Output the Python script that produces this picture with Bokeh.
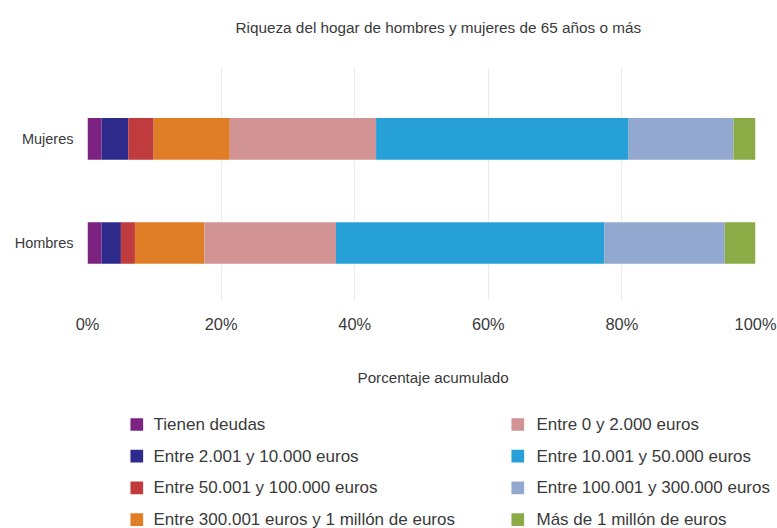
from bokeh.plotting import figure
from bokeh.models import ColumnDataSource, FixedTicker, Range1d
from bokeh.layouts import column
from bokeh.core.properties import value
from bokeh.embed import file_html
from bokeh.resources import INLINE

# ---- data ----
categories = ["Hombres", "Mujeres"]
segments = [
    "Tienen deudas",
    "Entre 2.001 y 10.000 euros",
    "Entre 50.001 y 100.000 euros",
    "Entre 300.001 euros y 1 millón de euros",
    "Entre 0 y 2.000 euros",
    "Entre 10.001 y 50.000 euros",
    "Entre 100.001 y 300.000 euros",
    "Más de 1 millón de euros",
]
hombres = [2.1, 2.9, 2.1, 10.4, 19.7, 40.2, 18.0, 4.6]
mujeres = [2.1, 4.0, 3.8, 11.4, 21.9, 37.8, 15.7, 3.3]
colors = ["#7c2382", "#2d2a8c", "#c03b3d", "#e07d27", "#d19393",
          "#27a0d8", "#93a8cf", "#8aab46"]
x_ticks = [0, 20, 40, 60, 80, 100]
x_tick_labels = ["0%", "20%", "40%", "60%", "80%", "100%"]
title_text = "Riqueza del hogar de hombres y mujeres de 65 años o más"
x_title = "Porcentaje acumulado"

FONT = "Liberation Sans"
TXT = "#3a3a3a"
W = 777


def style_title(t, text, size, offset, standoff):
    t.text = text
    t.text_font = FONT
    t.text_font_size = size
    t.text_font_style = "normal"
    t.text_color = TXT
    t.align = "left"
    t.offset = offset
    t.standoff = standoff


def blank(fig):
    fig.outline_line_color = None
    fig.grid.grid_line_color = None
    try:
        fig.frame_align = False
    except Exception:
        pass


# ---- header with the chart title ----
TOP_H = 41
top = figure(width=W, height=TOP_H, output_backend="svg", toolbar_location=None,
             x_range=Range1d(0, 1), y_range=Range1d(0, 1),
             x_axis_location=None, y_axis_location=None,
             min_border=0, min_border_top=40)
blank(top)
style_title(top.title, title_text, "15.3px", 235, 10)

# ---- main bar chart ----
data = {"y": list(range(len(categories)))}
for i, s in enumerate(segments):
    data[s] = [hombres[i], mujeres[i]]
source = ColumnDataSource(data)

MAIN_H = 294
p = figure(width=W, height=MAIN_H, output_backend="svg", toolbar_location=None,
           x_range=Range1d(0, 100), y_range=Range1d(-0.552, 1.686),
           min_border_left=87, min_border_right=W - 755,
           min_border_top=67 - TOP_H, min_border_bottom=33)
p.outline_line_color = None
try:
    p.frame_align = False
except Exception:
    pass

p.hbar_stack(segments, y="y", height=0.4, color=colors,
             source=source, line_color=None)

xa = p.xaxis[0]
xa.ticker = FixedTicker(ticks=x_ticks)
xa.major_label_overrides = {t: l for t, l in zip(x_ticks, x_tick_labels)}
xa.major_label_text_font = FONT
xa.major_label_text_font_size = "16.4px"
xa.major_label_text_color = TXT
xa.axis_line_color = None
xa.major_tick_line_color = None
xa.minor_tick_line_color = None
xa.major_label_standoff = 8

ya = p.yaxis[0]
ya.ticker = FixedTicker(ticks=list(range(len(categories))))
ya.major_label_overrides = {i: c for i, c in enumerate(categories)}
ya.major_label_text_font = FONT
ya.major_label_text_font_size = "14.5px"
ya.major_label_text_color = TXT
ya.axis_line_color = None
ya.major_tick_line_color = None
ya.minor_tick_line_color = None
ya.major_label_standoff = 8

p.xgrid.ticker = FixedTicker(ticks=x_ticks)
p.xgrid.grid_line_color = "#ebebeb"
p.ygrid.grid_line_color = None

# ---- axis title + legend (two columns, column-major order) ----
LEG_TOP = TOP_H + MAIN_H          # page y where this part starts
LEG_H = 528 - LEG_TOP
LEG_FRAME_TOP = 55
leg = figure(width=W, height=LEG_H, output_backend="svg", toolbar_location=None,
             x_range=Range1d(0, W),
             y_range=Range1d(LEG_TOP + LEG_H, LEG_TOP + LEG_FRAME_TOP),
             x_axis_location=None, y_axis_location=None,
             min_border=0, min_border_top=LEG_FRAME_TOP)
blank(leg)
style_title(leg.title, x_title, "15.2px", 357, 10)

nrows = 4
col_swatch = [136.3, 517.3]
col_text = [153, 536]
row0, rstep = 424, 31.7
sx, sy, tx, ty = [], [], [], []
for i in range(len(segments)):
    c, r = divmod(i, nrows)
    sx.append(col_swatch[c]); tx.append(col_text[c])
    sy.append(row0 + r * rstep); ty.append(row0 + r * rstep)

leg.scatter(x=sx, y=sy, marker="square", size=12.7, color=colors, line_color=None)
leg.text(x=tx, y=ty, text=segments, text_font=value(FONT),
         text_font_size=value("17px"), text_color=TXT,
         text_baseline="middle", text_align="left")

layout = column(top, p, leg)
open("out.html", "w").write(file_html(layout, INLINE))
